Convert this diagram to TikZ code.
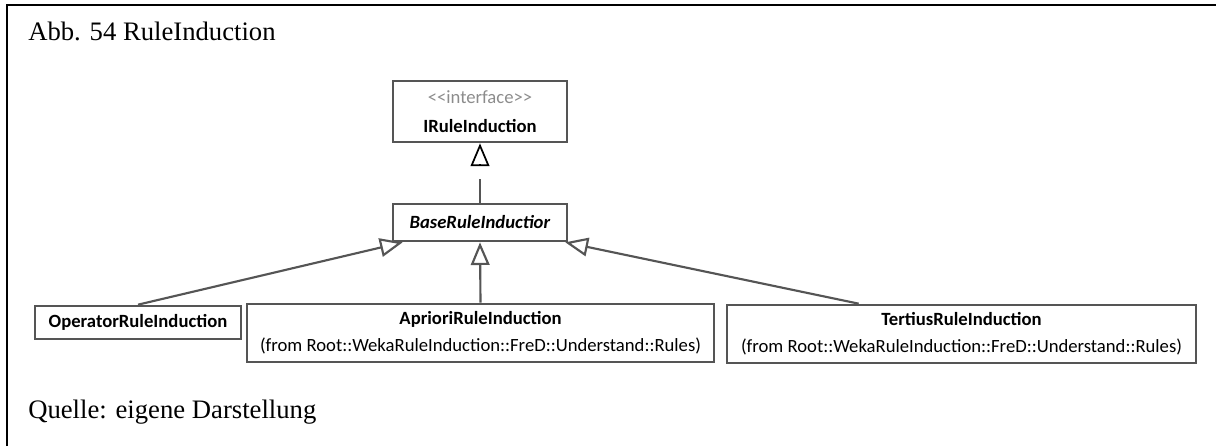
\documentclass[tikz,border=0pt]{standalone}
\usepackage{fontspec}
\setmainfont{Liberation Serif}
\newfontfamily\umlfont{Carlito}[Ligatures=TeXOff]
\usepackage{tikz}
\usetikzlibrary{arrows.meta}
\usetikzlibrary{calc}
\definecolor{umlline}{HTML}{555555}
\definecolor{stereo}{HTML}{8C8C8C}

\tikzset{
	umlclass/.style={draw=umlline, line width=2pt, inner sep=0pt, align=center,
		font=\umlfont\fontsize{14}{20}\selectfont},
	gen/.style={color=umlline, line width=1.6pt, -{Triangle[open,length=17pt,width=14pt]}},
	caption/.style={anchor=base west, inner sep=0pt, font=\fontsize{20}{22}\selectfont}
}

\begin{document}
\begin{tikzpicture}[x=0.75pt,y=-0.75pt]
\useasboundingbox (0,0) rectangle (1216,446);
%\draw[line width=1.5pt] (7,5) rectangle (1216,446);
\draw[line width=1.5pt] (7,446) -- (7,5) -- (1216,5);

\node[caption] (title) at (28,40) {Abb. 54 RuleInduction};
\node[caption] (source) at (28,418) {Quelle: eigene Darstellung};

\node[umlclass, minimum width=130.5pt, minimum height=45.75pt] (iface) at (480,111.5)
	{{\color{stereo}<<interface>>}\\[1.5pt]\textbf{IRuleInduction}};
\node[umlclass, minimum width=130.5pt, minimum height=27.75pt] (base) at (480,222.5)
	{\textbf{\textit{BaseRuleInductior}}};
\node[umlclass, minimum width=154.5pt, minimum height=24.75pt] (oper) at (138,322.5)
	{\textbf{OperatorRuleInduction}};
\node[umlclass, minimum width=350.25pt, minimum height=43.5pt] (apriori) at (480.5,333)
	{\textbf{AprioriRuleInduction}\\(from Root::WekaRuleInduction::FreD::Understand::Rules)};
\node[umlclass, minimum width=351.75pt, minimum height=43.5pt] (tertius) at (961.5,334)
	{\textbf{TertiusRuleInduction}\\(from Root::WekaRuleInduction::FreD::Understand::Rules)};

% realization: tip and line stand apart
\coordinate (realtop) at ($(iface.south)+(0,21)$);
\coordinate (realend) at ($(iface.south)+(0,36)$);
\draw[umlline, line width=1.6pt] (base.north) -- (realend);
\draw[gen, black, line width=1.3pt] (realtop) -- (iface.south);

\path[gen]
(oper.north) edge ($(base.south west)+(11,0)$)
(apriori.north) edge (base.south)
($(tertius.north west)+(133,0)$) edge ($(base.south east)+(-3,0)$)
;
\end{tikzpicture}
\end{document}
